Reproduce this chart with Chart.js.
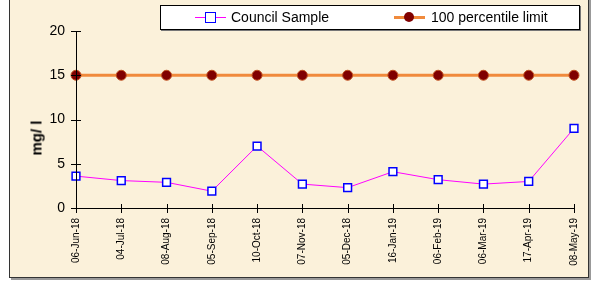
<!DOCTYPE html>
<html>
<head>
<meta charset="utf-8">
<script src="https://cdn.jsdelivr.net/npm/chart.js@4/dist/chart.umd.min.js"></script>
<style>
  html, body { margin: 0; padding: 0; background: #ffffff; }
  #wrap { position: relative; width: 597px; height: 288px; }
  #frame { position: absolute; left: 9px; top: -2px; width: 578px; height: 278px;
    background: #fbf1da; border: 1px solid #333; box-shadow: 2px 2px 0 #999; }
  #c { position: absolute; left: 0; top: 0; }
  #ytitle { position: absolute; left: 36px; top: 138px; transform: translate(-50%, -50%) rotate(-90deg);
    font-family: "Liberation Sans", Arial, sans-serif; font-size: 15px; font-weight: bold; color: #000; white-space: nowrap; }
  #legend { position: absolute; left: 160px; top: 5px; width: 418px; height: 23px;
    background: #fff; border: 1px solid #000; box-shadow: 1px 1px 0 #777;
    font-family: "Liberation Sans", Arial, sans-serif; font-size: 14px; color: #000; }
  .item { position: absolute; top: 4px; height: 16px; line-height: 15px; white-space: nowrap; }
</style>
</head>
<body>
<div id="wrap">
  <div id="frame"></div>
  <canvas id="c" width="597" height="288"></canvas>
  <div id="ytitle">mg/ l</div>
  <div id="legend">
    <div class="item" style="left:34px;">
      <span style="position:absolute;left:0;top:7px;width:31px;border-top:1px solid #ff00ff;"></span>
      <span style="position:absolute;left:10px;top:2px;width:9px;height:9px;border:1px solid #0000ff;background:#fff;"></span>
      <span style="position:absolute;left:36px;top:0;">Council Sample</span>
    </div>
    <div class="item" style="left:233px;">
      <span style="position:absolute;left:0;top:6px;width:31px;border-top:3px solid #f08a3c;"></span>
      <span style="position:absolute;left:10px;top:2px;width:10px;height:10px;border-radius:50%;background:#800000;"></span>
      <span style="position:absolute;left:37px;top:0;">100 percentile limit</span>
    </div>
  </div>
</div>
<script>
const categories = ["06-Jun-18","04-Jul-18","08-Aug-18","05-Sep-18","10-Oct-18","07-Nov-18","05-Dec-18","16-Jan-19","06-Feb-19","06-Mar-19","17-Apr-19","08-May-19"];
const councilSample = [3.6, 3.1, 2.9, 1.9, 7.0, 2.7, 2.3, 4.1, 3.2, 2.7, 3.0, 9.0];
const percentileLimit = [15, 15, 15, 15, 15, 15, 15, 15, 15, 15, 15, 15];
const yTicks = [0, 5, 10, 15, 20];

const crossTicks = {
  id: 'crossTicks',
  afterDatasetsDraw(chart) {
    const ctx = chart.ctx;
    const x = chart.scales.x, y = chart.scales.y;
    const area = chart.chartArea;
    ctx.save();
    ctx.strokeStyle = '#000';
    ctx.lineWidth = 1;
    ctx.beginPath();
    ctx.moveTo(area.left + 0.5, area.top);
    ctx.lineTo(area.left + 0.5, area.bottom + 0.5);
    ctx.lineTo(area.right, area.bottom + 0.5);
    y.ticks.forEach((t, i) => {
      const py = Math.round(y.getPixelForTick(i)) + 0.5;
      ctx.moveTo(area.left - 5, py); ctx.lineTo(area.left + 5, py);
    });
    x.ticks.forEach((t, i) => {
      const px = Math.round(x.getPixelForTick(i)) + 0.5;
      ctx.moveTo(px, area.bottom - 4); ctx.lineTo(px, area.bottom + 5);
    });
    ctx.stroke();
    ctx.restore();
  }
};

new Chart(document.getElementById('c'), {
  type: 'line',
  data: {
    labels: categories,
    datasets: [
      {
        label: '100 percentile limit',
        data: percentileLimit,
        borderColor: '#f08a3c',
        borderWidth: 3,
        pointStyle: 'circle',
        pointRadius: 5,
        pointBackgroundColor: '#800000',
        pointBorderColor: '#c05020',
        pointBorderWidth: 1,
        tension: 0,
        order: 2
      },
      {
        label: 'Council Sample',
        data: councilSample,
        borderColor: '#ff00ff',
        borderWidth: 1,
        pointStyle: 'rect',
        pointRadius: 5.5,
        pointBackgroundColor: '#ffffff',
        pointBorderColor: '#0000ff',
        pointBorderWidth: 1.5,
        tension: 0,
        order: 1
      }
    ]
  },
  options: {
    responsive: false,
    animation: false,
    layout: { padding: { left: 27, right: 23, top: 31, bottom: 0 } },
    plugins: { legend: { display: false }, tooltip: { enabled: false } },
    scales: {
      x: {
        offset: false,
        grid: { display: false, drawTicks: false },
        border: { display: false },
        ticks: {
          autoSkip: false, maxRotation: 90, minRotation: 90, padding: 10,
          color: '#000', font: { family: '"Liberation Sans", Arial, sans-serif', size: 10 }
        },
        afterFit(s) { s.height = 80; }
      },
      y: {
        min: 0, max: 20,
        afterBuildTicks(s) { s.ticks = yTicks.map(v => ({ value: v })); },
        grid: { display: false, drawTicks: false },
        border: { display: false },
        ticks: { padding: 11, color: '#000', font: { family: '"Liberation Sans", Arial, sans-serif', size: 14 } },
        afterFit(s) { s.width = 49; }
      }
    }
  },
  plugins: [crossTicks]
});
</script>
</body>
</html>
